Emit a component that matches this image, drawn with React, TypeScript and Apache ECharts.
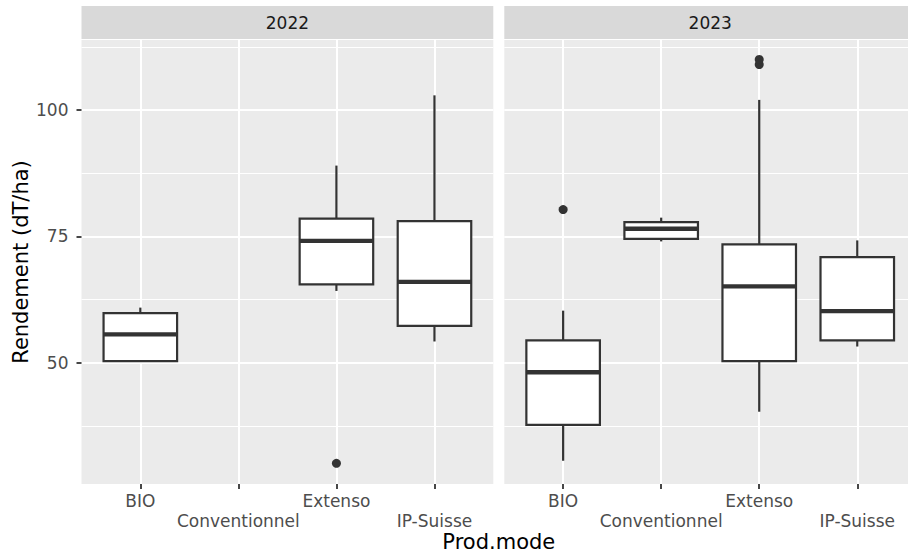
import React, { useEffect, useRef } from "react";
import * as echarts from "echarts";

const CATEGORIES = ["BIO", "Conventionnel", "Extenso", "IP-Suisse"];
const YEARS = ["2022", "2023"];
// [categoryIndex, lowerWhisker, Q1, median, Q3, upperWhisker]
const BOX_2022 = [
  [0, 50.3, 50.3, 55.6, 59.8, 60.9],
  [2, 64.2, 65.5, 74.1, 78.5, 89.0],
  [3, 54.2, 57.3, 66.0, 78.0, 102.9],
];
const BOX_2023 = [
  [0, 30.6, 37.7, 48.1, 54.4, 60.3],
  [1, 74.0, 74.5, 76.5, 77.8, 78.7],
  [2, 40.3, 50.3, 65.1, 73.4, 102.0],
  [3, 53.2, 54.4, 60.2, 70.9, 74.2],
];
// [categoryIndex, value]
const OUT_2022 = [[2, 30.1]];
const OUT_2023 = [
  [0, 80.3],
  [2, 109.0],
  [2, 110.0],
];
const Y_TICKS = [50, 75, 100];
const Y_MINOR = [37.5, 62.5, 87.5, 112.5];
const Y_MIN = 26.0;
const Y_MAX = 113.85;

const FONT = "DejaVu Sans";
const INK = "#333333";

const PANEL_TOP = 40;
const PANEL_H = 444;
const PANEL_W = 411.8;
const PANEL_LEFTS = [81.5, 504.3];
const STEP = PANEL_W / 4.2;

function renderBox(params: any, api: any) {
  const x = api.value(0);
  const lo = api.coord([x, api.value(1)]);
  const q1 = api.coord([x, api.value(2)]);
  const med = api.coord([x, api.value(3)]);
  const q3 = api.coord([x, api.value(4)]);
  const hi = api.coord([x, api.value(5)]);
  const bw = api.size([1, 0])[0] * 0.75;
  const cx = q1[0];
  const lw = 2.2;
  return {
    type: "group",
    children: [
      { type: "line", shape: { x1: cx, y1: hi[1], x2: cx, y2: q3[1] }, style: { stroke: INK, lineWidth: lw } },
      { type: "line", shape: { x1: cx, y1: q1[1], x2: cx, y2: lo[1] }, style: { stroke: INK, lineWidth: lw } },
      {
        type: "rect",
        shape: { x: cx - bw / 2, y: q3[1], width: bw, height: q1[1] - q3[1] },
        style: { fill: "#FFFFFF", stroke: INK, lineWidth: lw },
      },
      {
        type: "line",
        shape: { x1: cx - bw / 2, y1: med[1], x2: cx + bw / 2, y2: med[1] },
        style: { stroke: INK, lineWidth: 4.4 },
      },
    ],
  };
}

export default function App() {
  const ref = useRef<HTMLDivElement>(null);
  useEffect(() => {
    if (!ref.current) return;
    const chart = echarts.init(ref.current, undefined, { renderer: "svg" });

    const grids: any[] = [];
    PANEL_LEFTS.forEach((l) =>
      grids.push({
        left: l,
        top: PANEL_TOP,
        width: PANEL_W,
        height: PANEL_H,
        show: true,
        backgroundColor: "#EBEBEB",
        borderWidth: 0,
        outerBoundsMode: "none",
      })
    );
    PANEL_LEFTS.forEach((l) =>
      grids.push({
        left: l + STEP * 0.6,
        top: PANEL_TOP,
        width: STEP * 3,
        height: PANEL_H,
        show: false,
        outerBoundsMode: "none",
      })
    );

    const xAxes: any[] = [
      { gridIndex: 0, type: "value", min: 0, max: 1, show: false },
      { gridIndex: 1, type: "value", min: 0, max: 1, show: false },
    ];
    [2, 3].forEach((g) =>
      xAxes.push({
        gridIndex: g,
        type: "category",
        data: CATEGORIES,
        boundaryGap: false,
        axisLine: { show: false },
        axisTick: { show: true, length: 5, alignWithLabel: true, lineStyle: { color: INK, width: 1.8 } },
        axisLabel: {
          show: true,
          interval: 0,
          margin: 7,
          fontFamily: FONT,
          fontSize: 17,
          lineHeight: 20,
          color: "#4D4D4D",
          formatter: (v: string, i: number) => (i % 2 === 1 ? "\n" + v : v),
        },
        splitLine: { show: true, interval: 0, lineStyle: { color: "#FFFFFF", width: 2 } },
      })
    );

    const yAxes: any[] = [];
    [0, 1].forEach((g) => {
      yAxes.push({
        gridIndex: g,
        type: "value",
        min: Y_MIN,
        max: Y_MAX,
        position: "left",
        axisLine: { show: false },
        axisTick: {
          show: g === 0,
          length: 5,
          customValues: Y_TICKS,
          lineStyle: { color: INK, width: 1.8 },
        },
        axisLabel: {
          show: g === 0,
          customValues: Y_TICKS,
          margin: 13,
          fontFamily: FONT,
          fontSize: 17,
          color: "#4D4D4D",
        },
        splitLine: { show: true, lineStyle: { color: "#FFFFFF", width: 2 } },
      });
      yAxes.push({
        gridIndex: g,
        type: "value",
        min: Y_MIN,
        max: Y_MAX,
        position: "right",
        axisLine: { show: false },
        axisTick: { show: false, customValues: Y_MINOR },
        axisLabel: { show: false, customValues: Y_MINOR },
        splitLine: { show: true, lineStyle: { color: "#FFFFFF", width: 1 } },
      });
    });
    [2, 3].forEach((g) =>
      yAxes.push({ gridIndex: g, type: "value", min: Y_MIN, max: Y_MAX, show: false, splitLine: { show: false } })
    );

    const boxes = [BOX_2022, BOX_2023];
    const outs = [OUT_2022, OUT_2023];
    const series: any[] = [];
    [0, 1].forEach((p) => {
      series.push({
        type: "custom",
        xAxisIndex: 2 + p,
        yAxisIndex: 4 + p,
        renderItem: renderBox,
        data: boxes[p],
        encode: { x: 0, y: [1, 2, 3, 4, 5] },
        silent: true,
        z: 3,
      });
      series.push({
        type: "scatter",
        xAxisIndex: 2 + p,
        yAxisIndex: 4 + p,
        data: outs[p],
        symbol: "circle",
        symbolSize: 9,
        itemStyle: { color: INK, opacity: 1 },
        silent: true,
        z: 4,
      });
    });

    const graphics: any[] = [];
    PANEL_LEFTS.forEach((l, i) => {
      graphics.push({
        type: "rect",
        shape: { x: l, y: 6, width: PANEL_W, height: 33 },
        style: { fill: "#D9D9D9" },
        silent: true,
      });
      graphics.push({
        type: "text",
        x: l + PANEL_W / 2,
        y: 22.5,
        style: {
          text: YEARS[i],
          fill: "#1A1A1A",
          font: `17px "${FONT}"`,
          align: "center",
          verticalAlign: "middle",
        },
        silent: true,
      });
    });
    graphics.push({
      type: "text",
      x: (PANEL_LEFTS[0] + PANEL_LEFTS[1] + PANEL_W) / 2,
      y: 542,
      style: {
        text: "Prod.mode",
        fill: "#000000",
        font: `21px "${FONT}"`,
        align: "center",
        verticalAlign: "middle",
      },
      silent: true,
    });
    graphics.push({
      type: "text",
      x: 21,
      y: PANEL_TOP + PANEL_H / 2,
      rotation: Math.PI / 2,
      style: {
        text: "Rendement (dT/ha)",
        fill: "#000000",
        font: `21px "${FONT}"`,
        align: "center",
        verticalAlign: "middle",
      },
      silent: true,
    });

    chart.setOption({
      animation: false,
      backgroundColor: "#FFFFFF",
      textStyle: { fontFamily: FONT },
      grid: grids,
      xAxis: xAxes,
      yAxis: yAxes,
      series,
      graphic: graphics,
    });
    return () => chart.dispose();
  }, []);
  return (
    <div
      ref={ref}
      style={{ position: "absolute", left: 0, top: 0, width: 908, height: 556 }}
    />
  );
}
